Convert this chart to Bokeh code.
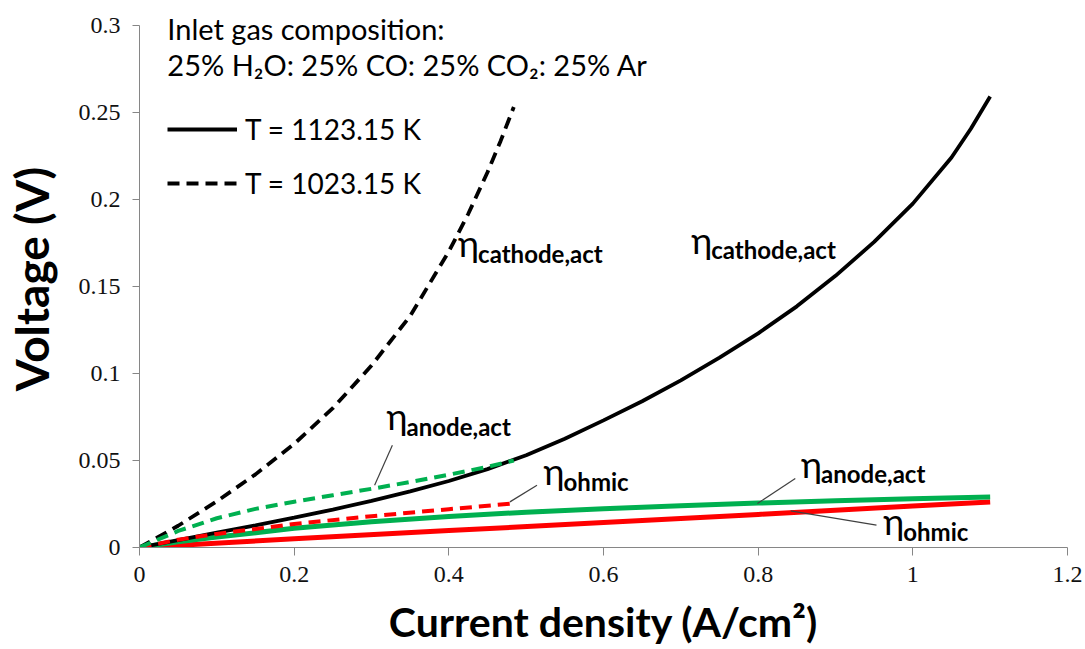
from bokeh.plotting import figure
from bokeh.models import Range1d, FixedTicker, Label, Legend, LegendItem
from bokeh.embed import file_html
from bokeh.resources import INLINE

# ---------------- data ----------------
# T = 1123.15 K (solid lines)
j_cath_1123 = [0, 0.05, 0.1, 0.15, 0.2, 0.25, 0.3, 0.35, 0.4, 0.45, 0.5, 0.55, 0.6,
               0.65, 0.7, 0.75, 0.8, 0.85, 0.9, 0.95, 1.0, 1.05, 1.075, 1.1]
v_cath_1123 = [0, 0.0043, 0.0085, 0.0127, 0.0171, 0.0218, 0.0268, 0.0322, 0.0382, 0.0450,
               0.0530, 0.0625, 0.0730, 0.0840, 0.0960, 0.1090, 0.1230, 0.1385, 0.1560, 0.1755,
               0.1975, 0.2240, 0.2405, 0.2590]
j_anode_1123 = [0, 0.05, 0.1, 0.2, 0.3, 0.4, 0.5, 0.6, 0.7, 0.8, 0.9, 1.0, 1.1]
v_anode_1123 = [0, 0.0033, 0.006, 0.011, 0.0148, 0.0178, 0.0203, 0.0223, 0.024,
                0.0255, 0.0268, 0.028, 0.029]
j_ohm_1123 = [0, 0.2, 0.4, 0.6, 0.8, 1.0, 1.1]
v_ohm_1123 = [0, 0.005, 0.0097, 0.0143, 0.019, 0.0238, 0.0262]

# T = 1023.15 K (dashed lines)
j_cath_1023 = [0, 0.05, 0.1, 0.15, 0.2, 0.25, 0.3, 0.35, 0.4, 0.425, 0.45, 0.467, 0.484]
v_cath_1023 = [0, 0.0125, 0.0265, 0.042, 0.0595, 0.080, 0.1045, 0.133, 0.170, 0.1915,
               0.2155, 0.2335, 0.253]
j_anode_1023 = [0, 0.05, 0.1, 0.15, 0.2, 0.25, 0.3, 0.35, 0.4, 0.45, 0.484]
v_anode_1023 = [0, 0.0095, 0.0168, 0.0222, 0.0263, 0.0300, 0.0337, 0.0376, 0.0418, 0.0463, 0.0500]
j_ohm_1023 = [0, 0.05, 0.1, 0.2, 0.3, 0.4, 0.484]
v_ohm_1023 = [0, 0.0045, 0.0078, 0.0135, 0.018, 0.022, 0.0253]

x_ticks = [0, 0.2, 0.4, 0.6, 0.8, 1, 1.2]
x_tick_labels = ["0", "0.2", "0.4", "0.6", "0.8", "1", "1.2"]
y_ticks = [0, 0.05, 0.1, 0.15, 0.2, 0.25, 0.3]
y_tick_labels = ["0", "0.05", "0.1", "0.15", "0.2", "0.25", "0.3"]

legend_labels = ["T = 1123.15 K", "T = 1023.15 K"]

# annotation labels: eta symbol position (data) and subscript text
eta_x = [0.4120, 0.7135, 0.3195, 0.5225, 0.8555, 0.9617]
eta_y = [0.1746, 0.1768, 0.0754, 0.0438, 0.0480, 0.0151]
eta_sub = ["cathode,act", "cathode,act", "anode,act", "ohmic", "anode,act", "ohmic"]

# leader lines (from label to curve)
leader_x0 = [0.327, 0.514, 0.848, 0.953]
leader_y0 = [0.0587, 0.0358, 0.0396, 0.0128]
leader_x1 = [0.304, 0.479, 0.799, 0.842]
leader_y1 = [0.0358, 0.0262, 0.0253, 0.0210]

header_lines = ["Inlet gas composition:", "25% H\u2082O: 25% CO: 25% CO\u2082: 25% Ar"]
header_x = 0.036
header_y = [0.2982, 0.2774]

GREEN = "#00B050"
RED = "#FF0000"
AXIS_GRAY = "#868686"

# ---------------- figure ----------------
p = figure(width=1085, height=649, x_range=Range1d(0, 1.2), y_range=Range1d(0, 0.3084),
           output_backend="svg", toolbar_location=None,
           min_border_left=134, min_border_right=18, min_border_top=10, min_border_bottom=102)
p.grid.visible = False
p.outline_line_color = None
p.background_fill_color = "white"
p.border_fill_color = "white"

# curves
p.line(j_ohm_1123, v_ohm_1123, line_color=RED, line_width=5)
p.line(j_anode_1123, v_anode_1123, line_color=GREEN, line_width=5)
r_solid = p.line(j_cath_1123, v_cath_1123, line_color="black", line_width=3.8)
r_dash = p.line(j_cath_1023, v_cath_1023, line_color="black", line_width=3.8, line_dash="12 7")
p.line(j_ohm_1023, v_ohm_1023, line_color=RED, line_width=4, line_dash="12 7")
p.line(j_anode_1023, v_anode_1023, line_color=GREEN, line_width=4, line_dash="12 7")

# leader lines
p.segment(leader_x0, leader_y0, leader_x1, leader_y1, line_color="#404040", line_width=1.2)

# axes
for ax, ticks, labels, tout in ((p.xaxis[0], x_ticks, x_tick_labels, 8),
                                (p.yaxis[0], y_ticks, y_tick_labels, 7)):
    ax.ticker = FixedTicker(ticks=ticks)
    ax.major_label_overrides = {t: l for t, l in zip(ticks, labels)}
    ax.axis_line_color = AXIS_GRAY
    ax.major_tick_line_color = AXIS_GRAY
    ax.minor_tick_line_color = None
    ax.major_tick_in = 0
    ax.major_tick_out = tout
    ax.major_label_text_font = "Liberation Serif"
    ax.major_label_text_font_size = "24px"
    ax.major_label_text_color = "#111111"
    ax.axis_label_text_font = "Lato"
    ax.axis_label_text_font_style = "bold"
    ax.axis_label_text_color = "black"
p.yaxis.bounds = (0, 0.3)

p.xaxis.axis_label = "Current density (A/cm\u00b2)"
p.yaxis.axis_label = "Voltage (V)"
p.xaxis.axis_label_text_font_size = "41px"
p.yaxis.axis_label_text_font_size = "46px"
p.xaxis.major_label_standoff = 11
p.yaxis.major_label_standoff = 12
p.xaxis.axis_label_standoff = 12
p.yaxis.axis_label_standoff = 17

# legend
legend = Legend(items=[LegendItem(label=legend_labels[0], renderers=[r_solid]),
                       LegendItem(label=legend_labels[1], renderers=[r_dash])],
                location=(28, 344), glyph_width=70, glyph_height=40, label_height=40,
                spacing=14, padding=0, margin=0, background_fill_alpha=0,
                border_line_alpha=0, label_text_font="Lato", label_text_font_size="28px",
                label_standoff=8, label_text_color="black")
p.add_layout(legend)

# header text
for txt, yy in zip(header_lines, header_y):
    p.add_layout(Label(x=header_x, y=yy, text=txt, text_font="Lato", text_font_size="29px",
                       text_baseline="alphabetic", text_color="black"))

# eta labels
for ex, ey, sub in zip(eta_x, eta_y, eta_sub):
    p.add_layout(Label(x=ex, y=ey, text="\u03b7", text_font="Lato", text_font_size="36px",
                       text_baseline="alphabetic", text_color="black"))
    p.add_layout(Label(x=ex, y=ey, x_offset=20, y_offset=-10, text=sub, text_font="Lato",
                       text_font_size="24px", text_font_style="bold",
                       text_baseline="alphabetic", text_color="black"))

open("out.html", "w").write(file_html(p, INLINE))
